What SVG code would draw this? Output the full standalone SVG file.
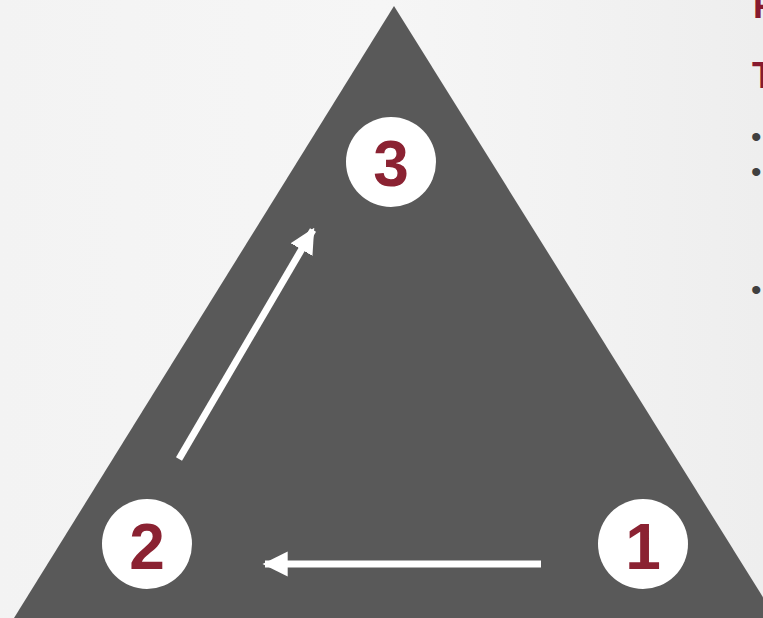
<svg xmlns="http://www.w3.org/2000/svg" width="763" height="618" viewBox="0 0 763 618">
  <style>
    .num { font-family: "Liberation Sans", Arial, sans-serif; font-weight: bold; font-size: 64px; fill: #8B2232; text-anchor: middle; }
    .head { font-family: "Liberation Sans", Arial, sans-serif; font-weight: bold; font-size: 36px; fill: #86192E; }
    .bullet { font-family: "Liberation Sans", Arial, sans-serif; font-size: 30px; fill: #404040; }
    .badge { fill: #ffffff; }
    .link { stroke: #ffffff; stroke-width: 7; fill: none; }
  </style>
  <defs>
    <linearGradient id="bg" x1="0" y1="0" x2="1" y2="0">
      <stop offset="0" stop-color="#f3f3f3"/>
      <stop offset="0.5" stop-color="#f6f6f6"/>
      <stop offset="1" stop-color="#eeeeee"/>
    </linearGradient>
    <marker id="ah" viewBox="0 0 10 10" refX="9" refY="5" markerWidth="3.6" markerHeight="3.6" markerUnits="strokeWidth" orient="auto">
      <path d="M0,0 L10,5 L0,10 z" fill="#ffffff"/>
    </marker>
  </defs>
  <rect width="763" height="618" fill="url(#bg)"/>
  <g id="triangle">
    <polygon points="394,6 14,618 776,618" fill="#595959"/>
  </g>
  <g id="connectors">
    <line class="link" x1="541" y1="564" x2="265" y2="564" marker-end="url(#ah)"/>
    <line class="link" x1="179" y1="459" x2="313" y2="230" marker-end="url(#ah)"/>
  </g>
  <g id="node-3">
    <circle class="badge" cx="391" cy="162" r="45"/>
    <text class="num" x="391" y="186">3</text>
  </g>
  <g id="node-2">
    <circle class="badge" cx="147" cy="544" r="45"/>
    <text class="num" x="147" y="569">2</text>
  </g>
  <g id="node-1">
    <circle class="badge" cx="643" cy="544" r="45"/>
    <text class="num" x="643" y="569">1</text>
  </g>
  <g id="side-text">
    <text class="head" x="753" y="18">F</text>
    <text class="head" x="752" y="88">T</text>
    <text class="bullet" x="751" y="147">•</text>
    <text class="bullet" x="751" y="182">•</text>
    <text class="bullet" x="751" y="300">•</text>
  </g>
</svg>
